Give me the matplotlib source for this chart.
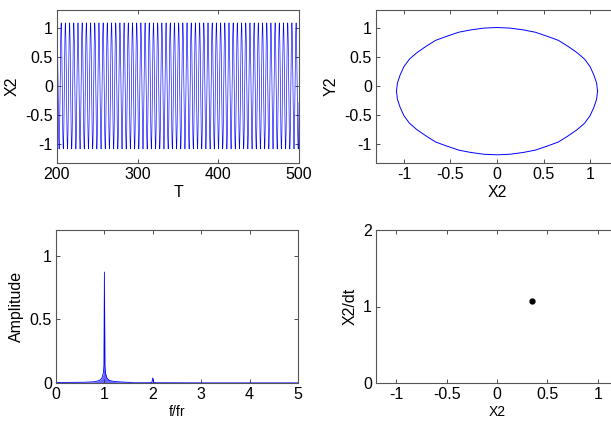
import numpy as np
from matplotlib import pyplot as plt

# one period of the limit cycle (48 samples)
x2_cycle = [1.08, 1.07, 1.04, 1.00, 0.94, 0.86, 0.76, 0.66, 0.54, 0.41, 0.28, 0.14,
            0.00, -0.14, -0.28, -0.41, -0.54, -0.66, -0.76, -0.86, -0.94, -1.00, -1.04, -1.07,
            -1.08, -1.07, -1.04, -1.00, -0.94, -0.86, -0.76, -0.66, -0.54, -0.41, -0.28, -0.14,
            0.00, 0.14, 0.28, 0.41, 0.54, 0.66, 0.76, 0.86, 0.94, 1.00, 1.04, 1.07]
y2_cycle = [-0.09, 0.05, 0.19, 0.33, 0.46, 0.57, 0.68, 0.78, 0.85, 0.92, 0.96, 0.99,
            1.00, 0.99, 0.96, 0.92, 0.85, 0.78, 0.68, 0.57, 0.46, 0.33, 0.19, 0.05,
            -0.09, -0.23, -0.37, -0.51, -0.64, -0.75, -0.86, -0.96, -1.03, -1.10, -1.14, -1.17,
            -1.18, -1.17, -1.14, -1.10, -1.03, -0.96, -0.86, -0.75, -0.64, -0.51, -0.37, -0.23]
period = 5.2          # T units per cycle, counted from the time trace
t_start, t_end = 200, 500

# amplitude spectrum
freq = [0.0, 0.3, 0.6, 0.8, 0.9, 0.95, 0.98, 0.99, 1.0, 1.01, 1.02, 1.05, 1.1, 1.2, 1.35, 1.5,
        1.6, 1.9, 1.98, 2.0, 2.02, 2.1, 3.0, 4.0, 5.0]
amp = [0.004, 0.005, 0.006, 0.01, 0.02, 0.04, 0.08, 0.14, 0.87, 0.14, 0.08, 0.04, 0.02, 0.012,
       0.008, 0.005, 0.002, 0.002, 0.003, 0.04, 0.003, 0.002, 0.001, 0.001, 0.001]

# Poincare point
poinc_x = [0.35]
poinc_y = [1.07]

ts_xticks = [200, 300, 400, 500]
pm_ticks = [-1, -0.5, 0, 0.5, 1]
pm_labels = ['-1', '-0.5', '0', '0.5', '1']
sp_xticks = [0, 1, 2, 3, 4, 5]
sp_yticks = [0, 0.5, 1]
pc_yticks = [0, 1, 2]

BLUE = '#0000ff'
FONT = ['Liberation Sans Narrow', 'Liberation Sans', 'DejaVu Sans']
plt.rcParams['font.family'] = FONT
plt.rcParams['font.size'] = 11.5


def style(ax):
    ax.tick_params(direction='in', top=True, right=True, length=3, width=0.6,
                   colors='#333333', labelcolor='black', pad=3)
    for s in ax.spines.values():
        s.set_color('#555555')
        s.set_linewidth(0.8)


fig = plt.figure(figsize=(6.11, 4.29), dpi=100)
W = 242 / 611
H = 153 / 429
ax1 = fig.add_axes([57 / 611, 1 - 163 / 429, W, H])
ax2 = fig.add_axes([376 / 611, 1 - 163 / 429, W, H])
ax3 = fig.add_axes([56 / 611, 1 - 383 / 429, W, H])
ax4 = fig.add_axes([376 / 611, 1 - 383 / 429, W, H])

# time trace
n_cycles = int(np.ceil((t_end - t_start) / period)) + 1
x2 = np.tile(x2_cycle, n_cycles)
t = t_start + np.arange(len(x2)) * period / len(x2_cycle)
ax1.plot(t, x2, color=BLUE, lw=0.45)
ax1.set_xlim(t_start, t_end)
ax1.set_ylim(-1.32, 1.3)
ax1.set_xticks(ts_xticks)
ax1.set_yticks(pm_ticks)
ax1.set_yticklabels(pm_labels)
ax1.set_xlabel('T', labelpad=2)
ax1.set_ylabel('X2', labelpad=4)
style(ax1)

# phase portrait
ax2.plot(x2_cycle + x2_cycle[:1], y2_cycle + y2_cycle[:1], color=BLUE, lw=0.7)
ax2.set_xlim(-1.3, 1.3)
ax2.set_ylim(-1.32, 1.3)
ax2.set_xticks(pm_ticks)
ax2.set_xticklabels(pm_labels)
ax2.set_yticks(pm_ticks)
ax2.set_yticklabels(pm_labels)
ax2.set_xlabel('X2', labelpad=2)
ax2.set_ylabel('Y2', labelpad=4)
style(ax2)

# spectrum
ax3.plot(freq, amp, color=BLUE, lw=0.6)
ax3.fill_between(freq, amp, color=BLUE, alpha=0.6, lw=0)
ax3.set_xlim(0, 5)
ax3.set_ylim(0, 1.2)
ax3.set_xticks(sp_xticks)
ax3.set_yticks(sp_yticks)
ax3.set_yticklabels(['0', '0.5', '1'])
ax3.set_xlabel('f/fr', labelpad=2, fontsize=10)
ax3.set_ylabel('Amplitude', labelpad=4)
style(ax3)

# poincare map
ax4.plot(poinc_x, poinc_y, 'o', color='black', ms=3.5)
ax4.set_xlim(-1.2, 1.2)
ax4.set_ylim(0, 2)
ax4.set_xticks(pm_ticks)
ax4.set_xticklabels(pm_labels)
ax4.set_yticks(pc_yticks)
ax4.set_xlabel('X2', labelpad=2, fontsize=10)
ax4.set_ylabel('X2/dt', labelpad=4)
style(ax4)

fig.savefig('out.png', dpi=100)
